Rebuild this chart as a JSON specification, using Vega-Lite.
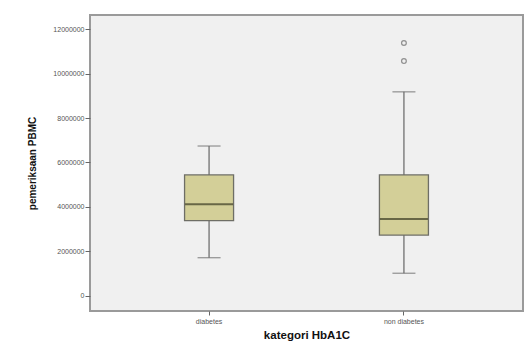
{
  "$schema": "https://vega.github.io/schema/vega-lite/v6.json",
  "width": 433,
  "height": 296,
  "autosize": {"type": "none"},
  "padding": {"left": 90, "top": 15, "right": 8, "bottom": 34},
  "background": "white",
  "config": {
    "view": {"fill": "#f0f0f0", "stroke": "#9a9a9a", "strokeWidth": 2},
    "font": "Liberation Sans",
    "axis": {"domain": false, "grid": false, "tickColor": "#666", "labelColor": "#555", "labelFont": "Liberation Sans", "titleFont": "Liberation Sans", "titleColor": "#111"}
  },
  "datasets": {
    "boxes": [
      {"kategori": "diabetes", "lower": 1710000, "q1": 3380000, "median": 4120000, "q3": 5440000, "upper": 6740000},
      {"kategori": "non diabetes", "lower": 1010000, "q1": 2730000, "median": 3450000, "q3": 5440000, "upper": 9180000}
    ],
    "outliers": [
      {"kategori": "non diabetes", "value": 11380000},
      {"kategori": "non diabetes", "value": 10570000}
    ]
  },
  "encoding": {
    "x": {
      "field": "kategori", "type": "nominal",
      "scale": {"domain": ["diabetes", "non diabetes"], "paddingInner": 0, "paddingOuter": 0.111},
      "axis": {"title": "kategori HbA1C", "labelAngle": 0, "labelFontSize": 7, "tickSize": 4, "labelPadding": 2, "titleFontSize": 11.5, "titleFontWeight": "bold", "titlePadding": 5}
    }
  },
  "layer": [
    {
      "data": {"name": "boxes"},
      "mark": {"type": "rule", "color": "#707070", "strokeWidth": 1.3},
      "encoding": {
        "y": {
          "field": "lower", "type": "quantitative",
          "scale": {"domain": [-690000, 12640000], "nice": false, "zero": false},
          "axis": {"title": "pemeriksaan PBMC", "values": [0, 2000000, 4000000, 6000000, 8000000, 10000000, 12000000], "format": "d", "labelFontSize": 7, "tickSize": 5, "labelPadding": 1, "titleFontSize": 10, "titleFontWeight": "bold", "titleX": -58, "titleBaseline": "middle"}
        },
        "y2": {"field": "upper"}
      }
    },
    {
      "data": {"name": "boxes"},
      "mark": {"type": "tick", "color": "#707070", "size": 23, "thickness": 1.3},
      "encoding": {"y": {"field": "lower", "type": "quantitative"}}
    },
    {
      "data": {"name": "boxes"},
      "mark": {"type": "tick", "color": "#707070", "size": 23, "thickness": 1.3},
      "encoding": {"y": {"field": "upper", "type": "quantitative"}}
    },
    {
      "data": {"name": "boxes"},
      "mark": {"type": "bar", "size": 49, "fill": "#d3cf98", "stroke": "#6e6e66", "strokeWidth": 1.3},
      "encoding": {"y": {"field": "q1", "type": "quantitative"}, "y2": {"field": "q3"}}
    },
    {
      "data": {"name": "boxes"},
      "mark": {"type": "tick", "color": "#3a3a22", "size": 48, "thickness": 2},
      "encoding": {"y": {"field": "median", "type": "quantitative"}}
    },
    {
      "data": {"name": "outliers"},
      "mark": {"type": "point", "shape": "circle", "filled": false, "stroke": "#6a6a6a", "strokeWidth": 1.3, "size": 22},
      "encoding": {"y": {"field": "value", "type": "quantitative"}}
    }
  ]
}
